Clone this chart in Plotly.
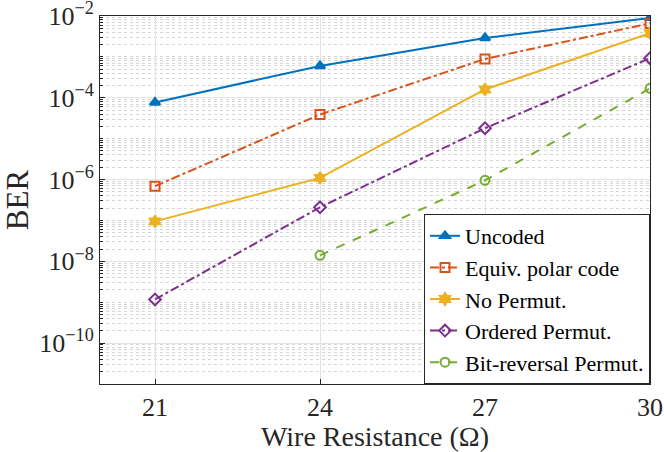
import numpy as np
import plotly.graph_objects as go

# wire resistance (ohm)
resistance = [21, 24, 27, 30]
resistance_br = [24, 27, 30]

# BER per scheme
ber_uncoded = [7.7e-5, 6.0e-4, 2.9e-3, 9.0e-3]
ber_equiv = [6.9e-7, 3.9e-5, 8.9e-4, 6.6e-3]
ber_noperm = [9.5e-8, 1.1e-6, 1.6e-4, 3.8e-3]
ber_ordered = [1.17e-9, 2.1e-7, 1.8e-5, 9.3e-4]
ber_bitrev = [1.4e-8, 9.6e-7, 1.7e-4]

y_exps = [-10, -8, -6, -4, -2]

FONT = "Liberation Serif"

series = [
    ("Uncoded", resistance, ber_uncoded, "#0072BD", "solid", "triangle-up"),
    ("Equiv. polar code", resistance, ber_equiv, "#D95319", "dashdot", "square-open"),
    ("No Permut.", resistance, ber_noperm, "#EDB120", "solid", "hexagram"),
    ("Ordered Permut.", resistance, ber_ordered, "#7E2F8E", "dashdot", "diamond-open"),
    ("Bit-reversal Permut.", resistance_br, ber_bitrev, "#77AC30", "dash", "circle-open"),
]

fig = go.Figure()
for name, x, y, c, dash, sym in series:
    fig.add_trace(go.Scatter(
        x=x, y=y, name=name, mode="lines+markers",
        line=dict(color=c, width=2, dash=dash),
        marker=dict(symbol=sym, size=9, color=c, line=dict(color=c, width=2)),
    ))

# minor grid: 2..9 x each decade, plus odd decades
major_vals = [10.0 ** e for e in y_exps]
minor_vals = [k * 10.0 ** e for e in range(-11, -2) for k in range(1, 10)]
minor_vals = [v for v in minor_vals if v not in major_vals]

axis_common = dict(
    showline=True, linecolor="#262626", linewidth=1, mirror=True,
    ticks="inside", ticklen=5, tickcolor="#262626",
    gridcolor="#e3e3e3", gridwidth=1, zeroline=False,
    automargin=False, ticklabeloverflow="allow",
    tickfont=dict(family=FONT, size=26, color="#262626"),
)

fig.update_xaxes(
    range=[20, 30], tickvals=[21, 24, 27, 30],
    title=dict(text="Wire Resistance (Ω)", font=dict(family=FONT, size=28, color="#262626"), standoff=0),
    **axis_common,
)
fig.update_yaxes(
    type="log", range=[-11, -2],
    tickvals=major_vals,
    ticktext=["10<sup>−%d</sup>" % -e for e in y_exps],
    minor=dict(tickmode="array", tickvals=minor_vals, ticks="inside", ticklen=3,
               tickcolor="#262626", showgrid=True, gridcolor="#d6d6d6", griddash="dot"),
    title=dict(text="BER", font=dict(family=FONT, size=31, color="#262626"), standoff=4),
    **axis_common,
)

fig.update_layout(
    width=664, height=452,
    margin=dict(l=100, r=14, t=16, b=68),
    plot_bgcolor="white", paper_bgcolor="white",
    font=dict(family=FONT, color="#262626"),
    legend=dict(
        x=1, y=0, xanchor="right", yanchor="bottom",
        bgcolor="white", bordercolor="#262626", borderwidth=1,
        font=dict(family=FONT, size=22, color="#000000"),
        tracegroupgap=0, itemwidth=30,
    ),
)

# drop the default body margin so the figure fills the window
fig.write_html("out.html", config={"displayModeBar": False},
               post_script="document.body.style.margin='0px';")
